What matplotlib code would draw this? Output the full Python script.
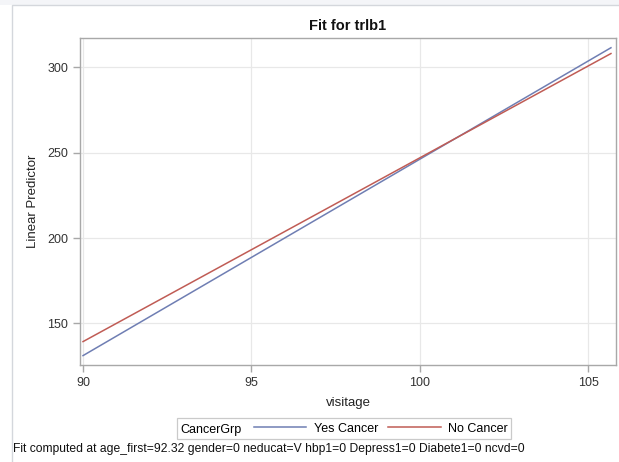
import matplotlib
matplotlib.use("Agg")
import matplotlib.pyplot as plt
from matplotlib.lines import Line2D
from matplotlib.patches import Rectangle
from matplotlib.offsetbox import HPacker, VPacker, DrawingArea

# Data
visitage = [90.0, 105.67]
yes_cancer = [131.2, 311.4]
no_cancer = [139.4, 308.0]
x_ticks = [90, 95, 100, 105]
y_ticks = [150, 200, 250, 300]
series_names = ["Yes Cancer", "No Cancer"]
title = "Fit for trlb1"
footnote = "Fit computed at age_first=92.32 gender=0 neducat=V hbp1=0 Depress1=0 Diabete1=0 ncvd=0"

plt.rcParams['font.family'] = ['Liberation Sans', 'DejaVu Sans']

W, H = 619, 462
fig = plt.figure(figsize=(W / 100, H / 100), dpi=100)
fig.patch.set_facecolor('white')

# outer frame
fig.patches.append(Rectangle((0, 1 - 5 / H), 1, 5 / H, transform=fig.transFigure,
                             facecolor='#F4F5F8', edgecolor='none'))
fig.patches.append(Rectangle((12 / W, -0.05), 1.2, 1 - 5 / H + 0.05,
                             transform=fig.transFigure, fill=False,
                             edgecolor='#D4D7DC', linewidth=1.0))

left, right, top, bottom = 80, 616, 38, 365
ax = fig.add_axes([left / W, 1 - bottom / H, (right - left) / W, (bottom - top) / H])

c_yes = '#6F7EB3'
c_no = '#C05C55'
ax.plot(visitage, yes_cancer, color=c_yes, lw=1.1, label=series_names[0])
ax.plot(visitage, no_cancer, color=c_no, lw=1.1, label=series_names[1])

ax.set_xlim(89.91, 105.82)
ax.set_ylim(125.7, 317.1)
ax.set_xticks(x_ticks)
ax.set_yticks(y_ticks)
ax.grid(True, color='#E8E8E8', lw=0.9)
ax.set_axisbelow(True)
for s in ax.spines.values():
    s.set_color('#A8A8A8')
    s.set_linewidth(1.0)
ax.tick_params(colors='#A8A8A8', labelcolor='#333333', labelsize=9, length=5, width=1)

ax.set_xlabel("visitage", fontsize=9.5, color='#222222', labelpad=6)
ax.set_ylabel("Linear Predictor", fontsize=9.5, color='#222222', labelpad=6)
ax.set_title(title, fontsize=10.5, fontweight='bold', color='#111111', pad=6)

handles = [Line2D([], [], color=c_yes, lw=1.1), Line2D([], [], color=c_no, lw=1.1)]
leg = fig.legend(handles, series_names, loc='center', bbox_to_anchor=(344 / W, 1 - 428.5 / H),
                 ncol=2, fontsize=9, frameon=True, fancybox=False, edgecolor='#BDBDBD',
                 handlelength=4.2, handletextpad=0.6, columnspacing=0.8, borderpad=0.25,
                 title="CancerGrp", title_fontsize=9)
leg.get_frame().set_linewidth(0.9)
fs = 9
title_col = VPacker(pad=0, sep=0, align='left',
                    children=[DrawingArea(1, 2), leg._legend_title_box])
box = HPacker(pad=leg.borderpad * fs, sep=1.0 * fs, align='center',
              children=[title_col, leg._legend_handle_box])
box.set_figure(fig)
box.set_offset(leg._findoffset)
leg._legend_box = box

fig.text(13 / W, 1 - 449 / H, footnote, fontsize=8.75, color='#111111', va='center', ha='left')

fig.savefig("out.png", dpi=100)
